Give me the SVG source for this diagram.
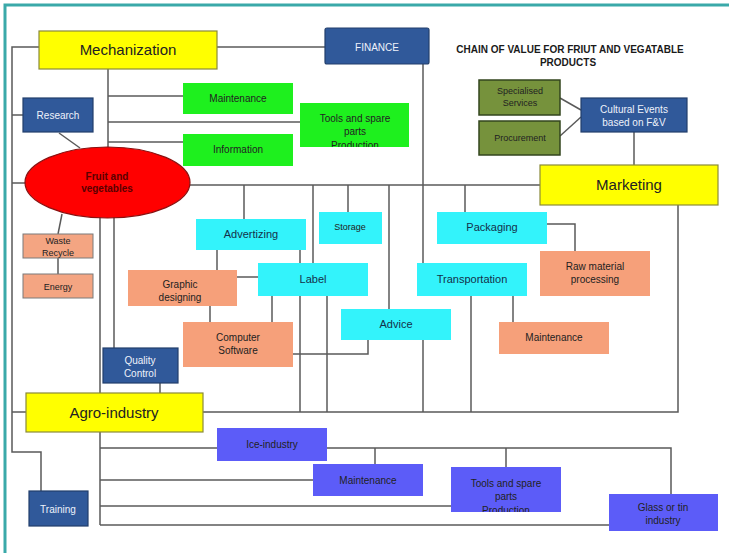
<svg xmlns="http://www.w3.org/2000/svg" width="729" height="553" viewBox="0 0 729 553">
  <style>
    text { font-family: "Liberation Sans", Arial, sans-serif; text-anchor: middle; }
    .ln { fill: none; stroke: #5a5a5a; stroke-width: 1.5; }
    .yel { fill: #ffff00; stroke: #8a8a3a; stroke-width: 1.2; }
    .blu { fill: #30599a; stroke: #223f6c; stroke-width: 1.2; }
    .grn { fill: #1ef01e; }
    .olv { fill: #76923c; stroke: #33451e; stroke-width: 1.5; }
    .cya { fill: #33f3fb; }
    .sal { fill: #f6a07a; }
    .salb { fill: #f4a582; stroke: #7a7a7a; stroke-width: 1; }
    .pur { fill: #5c5cf8; }
    .tb { font-size: 15px; fill: #222; }
    .tw { font-size: 10px; fill: #eef2fa; }
    .td { font-size: 10px; fill: #222; }
    .tc { font-size: 11px; fill: #14304a; }
    .ts { font-size: 9px; fill: #222; }
  </style>
  <defs>
    <clipPath id="clipTools1"><rect x="300" y="103" width="109" height="44"/></clipPath>
    <clipPath id="clipTools2"><rect x="451" y="467" width="110" height="45"/></clipPath>
  </defs>

  <rect width="729" height="553" fill="#ffffff"/>
  <!-- frame -->
  <path d="M5,553 V5 H729" fill="none" stroke="#3aa9a9" stroke-width="3"/>

  <!-- connectors -->
  <g id="connectors" class="ln">
    <!-- left spine -->
    <path d="M39,47 H12 V452 H41 V491"/>
    <path d="M12,115 H23"/>
    <path d="M12,183 H26"/>
    <path d="M12,412 H26"/>
    <!-- mechanization to finance -->
    <path d="M217,47 H325"/>
    <!-- mechanization branch -->
    <path d="M108,69 V150"/>
    <path d="M108,96 H183"/>
    <path d="M108,122 H300"/>
    <path d="M108,142 H183"/>
    <!-- research to ellipse -->
    <path d="M59,133 L80,148"/>
    <!-- ellipse to waste, energy -->
    <path d="M62,214 L58,234"/>
    <path d="M58,258 V274"/>
    <!-- main horizontal -->
    <path d="M188,185 H540"/>
    <path d="M244,185 V219"/>
    <path d="M313,185 V263"/>
    <path d="M348,185 V212"/>
    <path d="M389,185 V309"/>
    <path d="M465,185 V212"/>
    <!-- finance down -->
    <path d="M423,64 V263"/>
    <!-- ellipse downward -->
    <path d="M100,215 V393"/>
    <path d="M114,217 V348"/>
    <path d="M160,383 V393"/>
    <!-- advertizing / label / graphic / software -->
    <path d="M217,250 V270"/>
    <path d="M237,277 H258"/>
    <path d="M210,306 V322"/>
    <path d="M272,296 V322"/>
    <path d="M293,354 H368 V340"/>
    <!-- verticals to agro line -->
    <path d="M300,250 V412"/>
    <path d="M327,296 V412"/>
    <path d="M423,340 V412"/>
    <path d="M471,296 V412"/>
    <path d="M513,296 V322"/>
    <!-- packaging to raw material -->
    <path d="M547,224 H575 V251"/>
    <!-- marketing down to agro -->
    <path d="M203,412 H678 V205"/>
    <!-- cultural events -->
    <path d="M634,132 V165"/>
    <path d="M560,98 L581,110"/>
    <path d="M560,136 L581,117"/>
    <!-- agro-industry branch -->
    <path d="M100,432 V525"/>
    <path d="M100,448 H671 V494"/>
    <path d="M375,448 V464"/>
    <path d="M506,448 V467"/>
    <path d="M100,480 H313"/>
    <path d="M100,506 H451"/>
    <path d="M100,525 H609"/>
  </g>

  <!-- title -->
  <g id="title" font-weight="bold" font-size="10" fill="#1a1a1a">
    <text x="570" y="53">CHAIN OF VALUE FOR FRIUT AND VEGATABLE</text>
    <text x="568" y="66">PRODUCTS</text>
  </g>

  <g id="mechanization">
    <rect class="yel" x="39" y="31" width="178" height="38"/>
    <text class="tb" x="128" y="55">Mechanization</text>
  </g>
  <g id="finance">
    <rect class="blu" x="325" y="28" width="104" height="36" rx="2"/>
    <text class="tw" x="377" y="51" font-size="11">FINANCE</text>
  </g>
  <g id="research">
    <rect class="blu" x="23" y="98" width="70" height="34"/>
    <text class="tw" x="58" y="119">Research</text>
  </g>
  <g id="maintenance-green">
    <rect class="grn" x="183" y="83" width="110" height="31"/>
    <text class="td" x="238" y="102">Maintenance</text>
  </g>
  <g id="information">
    <rect class="grn" x="183" y="134" width="110" height="32"/>
    <text class="td" x="238" y="153">Information</text>
  </g>
  <g id="tools-green">
    <rect class="grn" x="300" y="103" width="109" height="44"/>
    <g clip-path="url(#clipTools1)">
      <text class="td" x="355" y="122">Tools and spare</text>
      <text class="td" x="355" y="135">parts</text>
      <text class="td" x="355" y="149">Production</text>
    </g>
  </g>
  <g id="specialised-services">
    <rect class="olv" x="479" y="80" width="81" height="35"/>
    <text class="ts" x="520" y="94">Specialised</text>
    <text class="ts" x="520" y="106">Services</text>
  </g>
  <g id="procurement">
    <rect class="olv" x="479" y="121" width="81" height="34"/>
    <text class="ts" x="520" y="141">Procurement</text>
  </g>
  <g id="cultural-events">
    <rect class="blu" x="581" y="98" width="106" height="34"/>
    <text class="tw" x="634" y="113" font-size="11">Cultural Events</text>
    <text class="tw" x="634" y="126" font-size="11">based on F&amp;V</text>
  </g>
  <g id="fruit-vegetables">
    <ellipse cx="107.5" cy="182.5" rx="82.5" ry="35.5" fill="#ff0000" stroke="#8a1010" stroke-width="1.2"/>
    <text x="107" y="180" font-size="10" font-weight="bold" fill="#5a0000">Fruit and</text>
    <text x="107" y="192" font-size="10" font-weight="bold" fill="#5a0000">vegetables</text>
  </g>
  <g id="marketing">
    <rect class="yel" x="540" y="165" width="178" height="40"/>
    <text class="tb" x="629" y="190" font-size="14">Marketing</text>
  </g>
  <g id="waste-recycle">
    <rect class="salb" x="23" y="234" width="70" height="24"/>
    <text class="ts" x="58" y="244">Waste</text>
    <text class="ts" x="58" y="256">Recycle</text>
  </g>
  <g id="energy">
    <rect class="salb" x="23" y="274" width="70" height="24"/>
    <text class="ts" x="58" y="290">Energy</text>
  </g>
  <g id="advertizing">
    <rect class="cya" x="196" y="219" width="110" height="31"/>
    <text class="tc" x="251" y="238">Advertizing</text>
  </g>
  <g id="storage">
    <rect class="cya" x="319" y="212" width="63" height="32"/>
    <text class="ts" x="350" y="230" fill="#14304a">Storage</text>
  </g>
  <g id="packaging">
    <rect class="cya" x="437" y="212" width="110" height="32"/>
    <text class="tc" x="492" y="231">Packaging</text>
  </g>
  <g id="graphic-designing">
    <rect class="sal" x="128" y="270" width="109" height="36"/>
    <text class="td" x="180" y="288">Graphic</text>
    <text class="td" x="180" y="301">designing</text>
  </g>
  <g id="label">
    <rect class="cya" x="258" y="263" width="110" height="33"/>
    <text class="tc" x="313" y="283">Label</text>
  </g>
  <g id="transportation">
    <rect class="cya" x="417" y="263" width="110" height="33"/>
    <text class="tc" x="472" y="283">Transportation</text>
  </g>
  <g id="raw-material">
    <rect class="sal" x="540" y="251" width="110" height="45"/>
    <text class="td" x="595" y="270">Raw material</text>
    <text class="td" x="595" y="283">processing</text>
  </g>
  <g id="computer-software">
    <rect class="sal" x="183" y="322" width="110" height="45"/>
    <text class="td" x="238" y="341">Computer</text>
    <text class="td" x="238" y="354">Software</text>
  </g>
  <g id="advice">
    <rect class="cya" x="341" y="309" width="110" height="31"/>
    <text class="tc" x="396" y="328">Advice</text>
  </g>
  <g id="maintenance-salmon">
    <rect class="sal" x="499" y="322" width="110" height="32"/>
    <text class="td" x="554" y="341">Maintenance</text>
  </g>
  <g id="quality-control">
    <rect class="blu" x="103" y="348" width="75" height="35"/>
    <text class="tw" x="140" y="364">Quality</text>
    <text class="tw" x="140" y="377">Control</text>
  </g>
  <g id="agro-industry">
    <rect class="yel" x="26" y="393" width="177" height="39"/>
    <text class="tb" x="114" y="418">Agro-industry</text>
  </g>
  <g id="ice-industry">
    <rect class="pur" x="217" y="428" width="110" height="33"/>
    <text class="td" x="272" y="448">Ice-industry</text>
  </g>
  <g id="maintenance-blue">
    <rect class="pur" x="313" y="464" width="110" height="32"/>
    <text class="td" x="368" y="484">Maintenance</text>
  </g>
  <g id="tools-blue">
    <rect class="pur" x="451" y="467" width="110" height="45"/>
    <g clip-path="url(#clipTools2)">
      <text class="td" x="506" y="487">Tools and spare</text>
      <text class="td" x="506" y="500">parts</text>
      <text class="td" x="506" y="514">Production</text>
    </g>
  </g>
  <g id="glass-tin">
    <rect class="pur" x="609" y="494" width="109" height="37"/>
    <text class="td" x="663" y="511">Glass or tin</text>
    <text class="td" x="663" y="524">industry</text>
  </g>
  <g id="training">
    <rect class="blu" x="29" y="491" width="59" height="35"/>
    <text class="tw" x="58" y="513">Training</text>
  </g>
</svg>
